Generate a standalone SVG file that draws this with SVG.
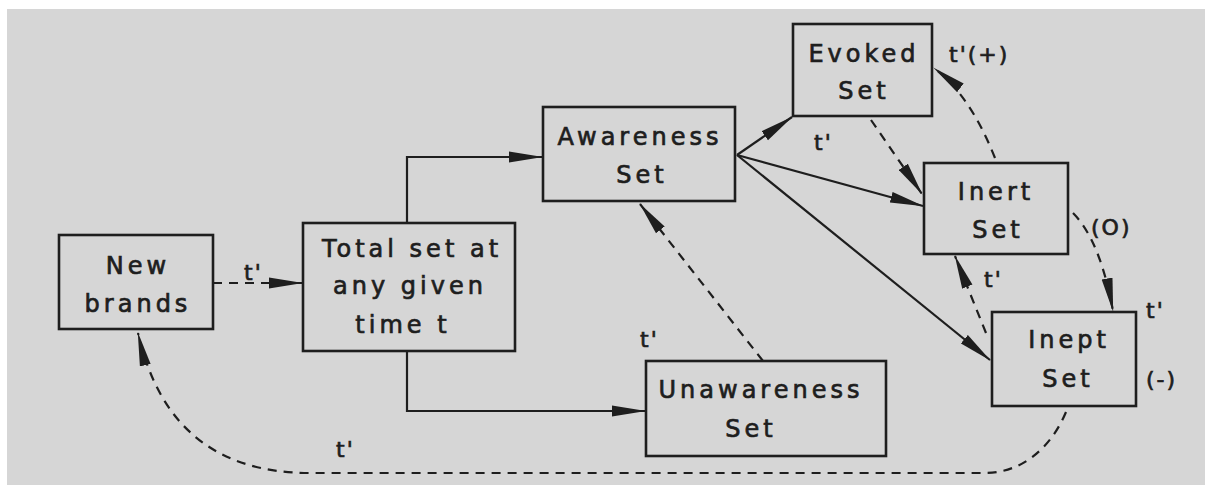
<svg xmlns="http://www.w3.org/2000/svg" width="1205" height="486" viewBox="0 0 1205 486">
  <defs>
    <style>
      .box { fill: none; stroke: #1e1e1e; stroke-width: 2.6; }
      .lbl { font-family: "DejaVu Sans", "Liberation Sans", sans-serif; font-size: 24px; letter-spacing: 4px; fill: #1e1e1e; stroke: #1e1e1e; stroke-width: 0.7; text-anchor: middle; }
      .note { font-family: "DejaVu Sans", "Liberation Sans", sans-serif; font-size: 22px; letter-spacing: 2px; fill: #1e1e1e; stroke: #1e1e1e; stroke-width: 0.7; }
      .solid { fill: none; stroke: #1e1e1e; stroke-width: 2.2; marker-end: url(#arrow); }
      .dash { fill: none; stroke: #1e1e1e; stroke-width: 2.2; stroke-dasharray: 9 7; marker-end: url(#arrow); }
    </style>
    <marker id="arrow" markerUnits="userSpaceOnUse" markerWidth="34" markerHeight="12" viewBox="0 0 34 12" refX="33" refY="6" orient="auto">
      <path d="M0,0.5 L34,6 L0,11.5 Z" fill="#1e1e1e"/>
    </marker>
  </defs>

  <!-- page -->
  <rect x="0" y="0" width="1205" height="486" fill="#ffffff"/>
  <rect x="7" y="9" width="1198" height="476" fill="#d6d6d6"/>

  <!-- connectors -->
  <g id="connectors">
    <path class="dash" d="M213,283 L302,283"/>
    <path class="solid" d="M407,223 L407,157 L542,157"/>
    <path class="solid" d="M407,351 L407,411 L645,411"/>
    <path class="solid" d="M737,155 L792,117"/>
    <path class="solid" d="M737,155 L923,206"/>
    <path class="solid" d="M737,155 L990,360"/>
    <path class="dash" d="M871,120 L922,194"/>
    <path class="dash" d="M995,158 Q970,95 934,68"/>
    <path class="dash" d="M1073,213 Q1100,240 1113,311"/>
    <path class="dash" d="M986,333 L955,256"/>
    <path class="dash" d="M763,361 L640,204"/>
    <path class="dash" d="M1066,412 C1050,450 1020,473 985,473 L310,473 C220,473 160,430 138,333"/>
  </g>

  <!-- connector labels -->
  <g id="labels">
    <text class="note" x="244" y="280">t'</text>
    <text class="note" x="814" y="150">t'</text>
    <text class="note" x="949" y="62">t'(+)</text>
    <text class="note" x="1091" y="235">(O)</text>
    <text class="note" x="1146" y="318">t'</text>
    <text class="note" x="1146" y="387">(-)</text>
    <text class="note" x="984" y="287">t'</text>
    <text class="note" x="640" y="347">t'</text>
    <text class="note" x="336" y="457">t'</text>
  </g>

  <g id="new-brands">
    <rect class="box" x="59" y="235" width="154" height="94"/>
    <text class="lbl" x="138" y="274">New</text>
    <text class="lbl" x="138" y="312">brands</text>
  </g>

  <g id="total-set">
    <rect class="box" x="303" y="223" width="212" height="128"/>
    <text class="lbl" x="412" y="257">Total set at</text>
    <text class="lbl" x="410" y="294">any given</text>
    <text class="lbl" x="403" y="333">time t</text>
  </g>

  <g id="awareness-set">
    <rect class="box" x="543" y="107" width="192" height="94"/>
    <text class="lbl" x="640" y="145">Awareness</text>
    <text class="lbl" x="642" y="183">Set</text>
  </g>

  <g id="unawareness-set">
    <rect class="box" x="646" y="361" width="240" height="95"/>
    <text class="lbl" x="761" y="398">Unawareness</text>
    <text class="lbl" x="751" y="437">Set</text>
  </g>

  <g id="evoked-set">
    <rect class="box" x="793" y="24" width="139" height="92"/>
    <text class="lbl" x="864" y="62">Evoked</text>
    <text class="lbl" x="864" y="99">Set</text>
  </g>

  <g id="inert-set">
    <rect class="box" x="924" y="163" width="144" height="91"/>
    <text class="lbl" x="996" y="200">Inert</text>
    <text class="lbl" x="998" y="238">Set</text>
  </g>

  <g id="inept-set">
    <rect class="box" x="992" y="312" width="144" height="94"/>
    <text class="lbl" x="1069" y="348">Inept</text>
    <text class="lbl" x="1068" y="387">Set</text>
  </g>
</svg>
